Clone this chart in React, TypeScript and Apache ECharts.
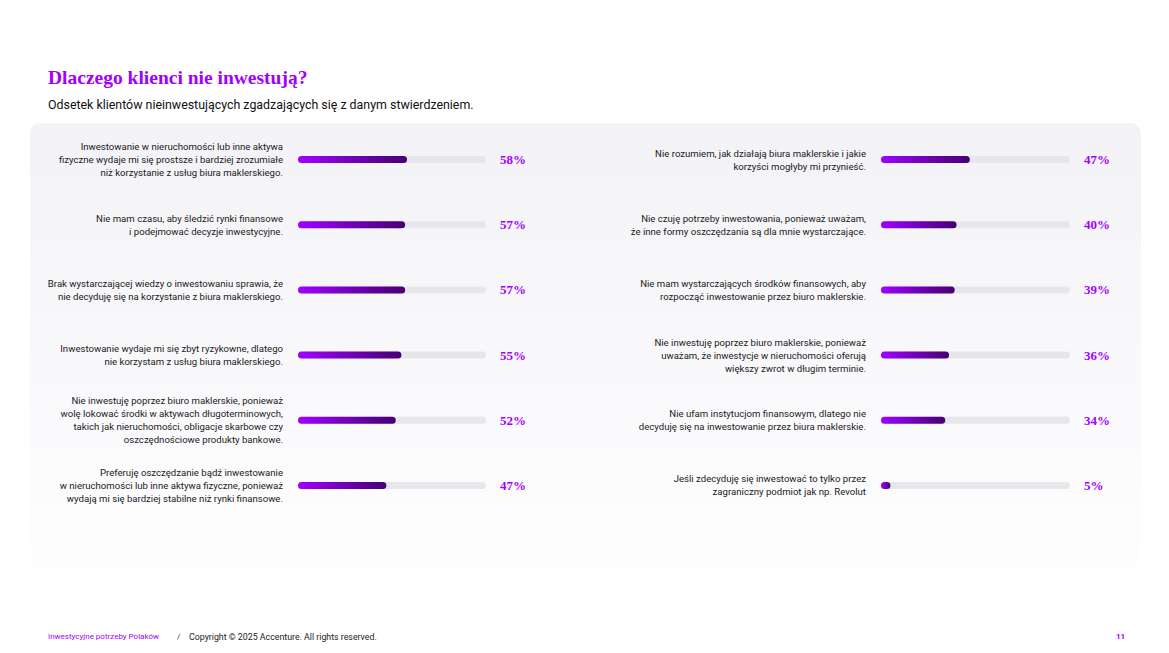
import React, { useEffect, useRef } from "react";
import * as echarts from "echarts";

const leftCategories = [
  "Inwestowanie w nieruchomości lub inne aktywa\nfizyczne wydaje mi się prostsze i bardziej zrozumiałe\nniż korzystanie z usług biura maklerskiego.",
  "Nie mam czasu, aby śledzić rynki finansowe\ni podejmować decyzje inwestycyjne.",
  "Brak wystarczającej wiedzy o inwestowaniu sprawia, że\nnie decyduję się na korzystanie z biura maklerskiego.",
  "Inwestowanie wydaje mi się zbyt ryzykowne, dlatego\nnie korzystam z usług biura maklerskiego.",
  "Nie inwestuję poprzez biuro maklerskie, ponieważ\nwolę lokować środki w aktywach długoterminowych,\ntakich jak nieruchomości, obligacje skarbowe czy\noszczędnościowe produkty bankowe.",
  "Preferuję oszczędzanie bądź inwestowanie\nw nieruchomości lub inne aktywa fizyczne, ponieważ\nwydają mi się bardziej stabilne niż rynki finansowe.",
];
const leftValues = [58, 57, 57, 55, 52, 47];

const rightCategories = [
  "Nie rozumiem, jak działają biura maklerskie i jakie\nkorzyści mogłyby mi przynieść.",
  "Nie czuję potrzeby inwestowania, ponieważ uważam,\nże inne formy oszczędzania są dla mnie wystarczające.",
  "Nie mam wystarczających środków finansowych, aby\nrozpocząć inwestowanie przez biuro maklerskie.",
  "Nie inwestuję poprzez biuro maklerskie, ponieważ\nuważam, że inwestycje w nieruchomości oferują\nwiększy zwrot w długim terminie.",
  "Nie ufam instytucjom finansowym, dlatego nie\ndecyduję się na inwestowanie przez biura maklerskie.",
  "Jeśli zdecyduję się inwestować to tylko przez\nzagraniczny podmiot jak np. Revolut",
];
const rightValues = [47, 40, 39, 36, 34, 5];

const fullScale = [100, 100, 100, 100, 100, 100];

const titleText = "Dlaczego klienci nie inwestują?";
const subtitleText = "Odsetek klientów nieinwestujących zgadzających się z danym stwierdzeniem.";
const footerLeft = "Inwestycyjne potrzeby Polaków";
const footerSlash = "/";
const footerRight = "Copyright © 2025 Accenture. All rights reserved.";
const pageNumber = "11";

const PURPLE = "#a100ff";
const SANS = "Roboto, 'Liberation Sans', sans-serif";
const SERIF = "'Liberation Serif', 'DejaVu Serif', serif";

export default function App() {
  const ref = useRef<HTMLDivElement>(null);

  useEffect(() => {
    if (!ref.current) return;
    const chart = echarts.init(ref.current, undefined, { renderer: "svg" });

    const barGradient = new echarts.graphic.LinearGradient(0, 0, 1, 0, [
      { offset: 0, color: "#a100ff" },
      { offset: 1, color: "#460073" },
    ]);

    const makeSeries = (idx: number, values: number[]) => [
      {
        type: "bar",
        xAxisIndex: idx,
        yAxisIndex: idx,
        data: values,
        barWidth: 7,
        barGap: "-100%",
        showBackground: true,
        backgroundStyle: { color: "#e7e6eb", borderRadius: 4 },
        itemStyle: { color: barGradient, borderRadius: 4 },
        z: 3,
        silent: true,
      },
      {
        type: "bar",
        xAxisIndex: idx,
        yAxisIndex: idx,
        data: fullScale,
        barWidth: 7,
        barGap: "-100%",
        itemStyle: { color: "rgba(0,0,0,0)" },
        label: {
          show: true,
          position: "right",
          distance: 14,
          formatter: (p: any) => values[p.dataIndex] + "%",
          fontFamily: SERIF,
          fontWeight: "bold",
          fontSize: 13,
          color: PURPLE,
        },
        z: 1,
        silent: true,
      },
    ];

    const yAxisBase = (idx: number, cats: string[]) => ({
      type: "category",
      gridIndex: idx,
      inverse: true,
      data: cats,
      axisLine: { show: false },
      axisTick: { show: false },
      axisLabel: {
        margin: 15,
        fontFamily: SANS,
        fontSize: 9.6,
        lineHeight: 13,
        color: "#1a1a1a",
        align: "right",
      },
    });

    const xAxisBase = (idx: number) => ({
      type: "value",
      gridIndex: idx,
      min: 0,
      max: 100,
      show: false,
    });

    chart.setOption({
      animation: false,
      backgroundColor: "#ffffff",
      grid: [
        { left: 298, width: 188, top: 127, height: 391 },
        { left: 881, width: 189, top: 127, height: 391 },
      ],
      xAxis: [xAxisBase(0), xAxisBase(1)],
      yAxis: [yAxisBase(0, leftCategories), yAxisBase(1, rightCategories)],
      series: [...makeSeries(0, leftValues), ...makeSeries(1, rightValues)],
      graphic: [
        {
          type: "rect",
          z: -10,
          silent: true,
          shape: { x: 30, y: 123, width: 1111, height: 540, r: 10 },
          style: {
            fill: new echarts.graphic.LinearGradient(0, 0, 0, 1, [
              { offset: 0, color: "#f3f2f6" },
              { offset: 0.55, color: "#fafafc" },
              { offset: 0.9, color: "#ffffff" },
            ]),
          },
        },
        {
          type: "text",
          left: 48,
          top: 67,
          style: {
            text: titleText,
            fontFamily: SERIF,
            fontWeight: "bold",
            fontSize: 19.5,
            fill: PURPLE,
          },
        },
        {
          type: "text",
          left: 48,
          top: 98,
          style: {
            text: subtitleText,
            fontFamily: SANS,
            fontSize: 12.4,
            fill: "#111111",
          },
        },
        {
          type: "text",
          left: 48,
          top: 632,
          style: { text: footerLeft, fontFamily: SANS, fontSize: 8, fill: PURPLE },
        },
        {
          type: "text",
          left: 177,
          top: 632,
          style: { text: footerSlash, fontFamily: SANS, fontSize: 8, fill: "#222222" },
        },
        {
          type: "text",
          left: 189,
          top: 632,
          style: { text: footerRight, fontFamily: SANS, fontSize: 8.8, fill: "#222222" },
        },
        {
          type: "text",
          left: 1116,
          top: 632,
          style: {
            text: pageNumber,
            fontFamily: SANS,
            fontWeight: "bold",
            fontSize: 8,
            fill: PURPLE,
          },
        },
      ],
    });

    return () => chart.dispose();
  }, []);

  return (
    <div
      ref={ref}
      style={{ position: "fixed", left: 0, top: 0, width: 1169, height: 653 }}
    />
  );
}
